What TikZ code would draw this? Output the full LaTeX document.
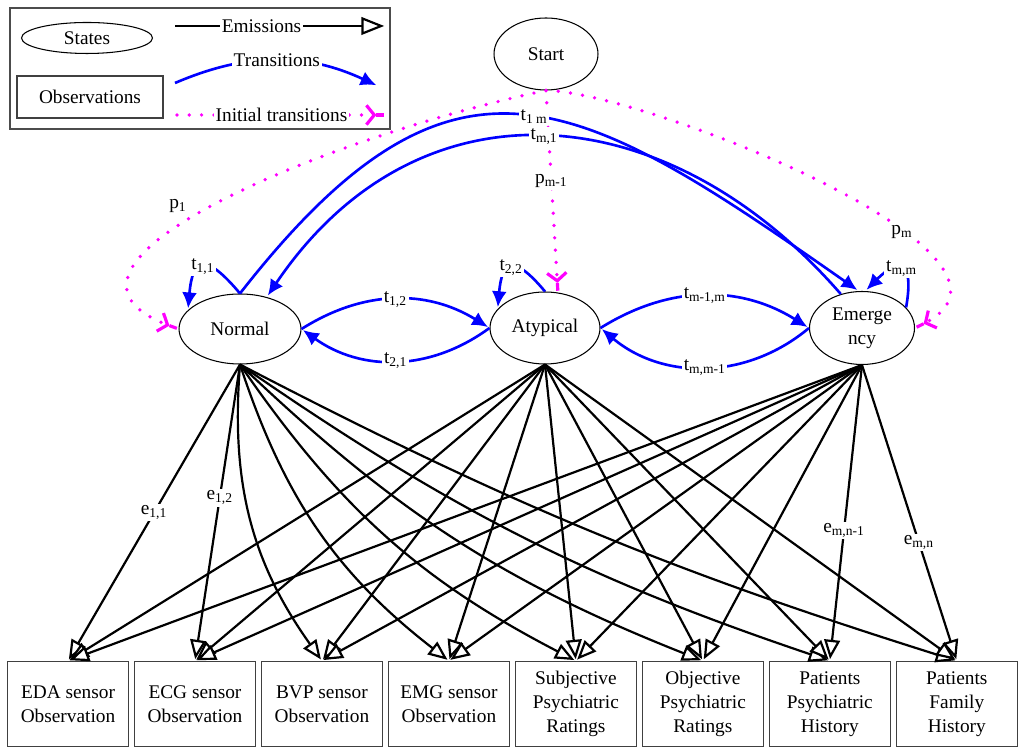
\documentclass[tikz,border=0pt]{standalone}
\usepackage{fontspec}
\setmainfont{Liberation Serif}
\usepackage{tikz}
\usetikzlibrary{arrows.meta,positioning,shapes.geometric}
\definecolor{transblue}{RGB}{0,0,255}
\definecolor{initpink}{RGB}{255,0,255}

\begin{document}
\begin{tikzpicture}[x=0.02cm,y=0.02cm,shorten >=1pt,node distance=2.54cm,on grid,
    font=\fontsize{11}{13.5}\selectfont]
    \tikzset{state/.style={draw,ellipse,line width=0.6pt,inner sep=0pt,align=center},
      obs/.style={draw=black!75,rectangle,line width=0.7pt,minimum width=2.42cm,minimum height=1.7cm,align=center},
      emit/.style={line width=1.25pt,-{Triangle[open,fill=white,length=11pt,width=9pt]}},
      trans/.style={transblue,line width=1.5pt,-{Latex[length=9pt,width=8.5pt]}},
      init/.style={initpink,line width=2.1pt,line cap=round,dash pattern=on 0pt off 7pt,
        -{Straight Barb[length=4.5pt,width=11pt,line width=1.8pt]Rectangle[length=4.5pt,width=1.8pt,line width=0pt]}},
      lbl/.style={fill=white,inner sep=1pt,text=black}}
    \useasboundingbox (0,0) rectangle (1024,756);

    % legend
    \draw[black!70,line width=0.8pt] (10,627) rectangle (390,748);
    \node[state,minimum width=2.62cm,minimum height=0.62cm] (lstate) at (87,718) {States};
    \node[obs,minimum width=2.92cm,minimum height=0.84cm] (lobs) at (90,659) {Observations};
    \coordinate (em1) at (175,730);
    \coordinate (em2) at (386,730);
    \coordinate (tr1) at (175,673);
    \coordinate (tr2) at (378,670);
    \coordinate (in1) at (177,641);
    \coordinate (in2) at (386,641);
    \draw[init] (in1) -- node[lbl] {Initial transitions} (in2);
    \path[emit,-{Triangle[open,fill=white,length=13pt,width=10pt]}] (em1) edge node[lbl,pos=0.41] {Emissions} (em2);
    \path[trans] (tr1) edge[bend left=24] node[lbl] {Transitions} (tr2);

    % states
    \node[state,minimum width=2.08cm,minimum height=1.44cm] (Start) at (546,702) {Start};
    \node[state,minimum width=2.44cm,minimum height=1.4cm] (Normal) at (240,427) {Normal};
    \node[state,minimum width=2.2cm,minimum height=1.44cm] (Atypical) at (545,428) {Atypical};
    \node[state,minimum width=2.1cm,minimum height=1.46cm] (Emergency) at (862,428) {Emerge\\ncy};

    % observations
    \node[obs] (EDA) at (68,52) {EDA sensor\\Observation};
    \node[obs,right=of EDA] (ECG) {ECG sensor\\Observation};
    \node[obs,right=of ECG] (BVP) {BVP sensor\\Observation};
    \node[obs,right=of BVP] (EMG) {EMG sensor\\Observation};
    \node[obs,right=of EMG] (Subj) {Subjective\\Psychiatric\\Ratings};
    \node[obs,right=of Subj] (Obj) {Objective\\Psychiatric\\Ratings};
    \node[obs,right=of Obj] (PPH) {Patients\\Psychiatric\\History};
    \node[obs,right=of PPH] (PFH) {Patients\\Family\\History};

    % emissions
    \path[emit] (Normal.south) edge node[lbl,pos=0.5] {e\textsubscript{1,1}} (EDA.north)
      (Normal.south) edge node[lbl,pos=0.45] {e\textsubscript{1,2}} (ECG.north);
    \foreach \obs/\bnd in {BVP/20,EMG/17,Subj/14,Obj/11,PPH/8,PFH/5}
      \path[emit] (Normal.south) edge[bend right=\bnd] (\obs.north);
    \foreach \obs in {EDA,ECG,BVP,EMG,Subj,Obj,PPH,PFH}
      \path[emit] (Atypical.south) edge (\obs.north);
    \foreach \obs in {EDA,ECG,BVP,EMG,Subj,Obj}
      \path[emit] (Emergency.south) edge (\obs.north);
    \path[emit] (Emergency.south) edge node[lbl,pos=0.56] {e\textsubscript{m,n-1}} (PPH.north)
      (Emergency.south) edge node[lbl,pos=0.6] {e\textsubscript{m,n}} (PFH.north);

    % initial transitions
    \draw[init] (Start.south) .. controls (330,620) and (10,490) .. node[lbl,pos=0.52,xshift=-0.6cm,yshift=0.06cm] {p\textsubscript{1}} (Normal.west);
    \draw[init] (Start.south) -- node[lbl,pos=0.45] {p\textsubscript{m-1}} (Atypical.70);
    \draw[init] (Start.south) .. controls (640,665) and (1060,500) .. node[lbl,pos=0.66] {p\textsubscript{m}} (Emergency.east);

    % transitions
    \path[trans] (Normal.east) edge[bend left=32] node[lbl] {t\textsubscript{1,2}} (Atypical.west)
      (Atypical.west) edge[bend left=36] node[lbl] {t\textsubscript{2,1}} (Normal.east)
      (Atypical.east) edge[bend left=32] node[lbl] {t\textsubscript{m-1,m}} (Emergency.west)
      (Emergency.west) edge[bend left=40] node[lbl] {t\textsubscript{m,m-1}} (Atypical.east)
      (Normal.north) edge[out=130,in=85,looseness=2.5] node[lbl] {t\textsubscript{1,1}} (Normal.160)
      (Atypical.north) edge[out=130,in=85,looseness=2.5] node[lbl] {t\textsubscript{2,2}} (Atypical.158)
      (Emergency.25) edge[out=80,in=45,looseness=2.8] node[lbl] {t\textsubscript{m,m}} (Emergency.85)
      (Normal.north) edge[out=52,in=145,looseness=1.43] node[lbl,pos=0.52] {t\textsubscript{1 m}} (Emergency.95)
      (Emergency.122) edge[out=131,in=56,looseness=1.19] node[lbl] {t\textsubscript{m,1}} (Normal.50);
\end{tikzpicture}
\end{document}
